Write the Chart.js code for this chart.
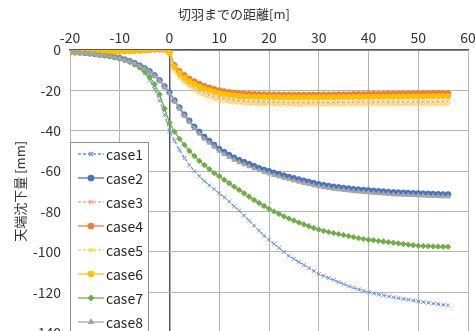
<!DOCTYPE html>
<html><head><meta charset="utf-8">
<script src="https://cdn.jsdelivr.net/npm/chart.js@4"></script>
<style>html,body{margin:0;padding:0;overflow:hidden;background:#fff}#wrap{width:475px;height:350px;position:relative}</style>
</head><body><div id="wrap"><canvas id="c"></canvas></div>
<script>
const distance = [-20,-19,-18,-17,-16,-15,-14,-13,-12,-11,-10,-9,-8,-7,-6,-5,-4,-3,-2,-1,0,1,2,3,4,5,6,7,8,9,10,11,12,13,14,15,16,17,18,19,20,21,22,23,24,25,26,27,28,29,30,31,32,33,34,35,36,37,38,39,40,41,42,43,44,45,46,47,48,49,50,51,52,53,54,55,56];
const xTicks = [-20,-10,0,10,20,30,40,50,60];
const yTicks = [0,-20,-40,-60,-80,-100,-120,-140];
const seriesNames = ['case1','case2','case3','case4','case5','case6','case7','case8'];
const case1 = [-1.0,-1.1,-1.3,-1.5,-1.7,-2.0,-2.3,-2.7,-3.1,-3.6,-4.2,-5.0,-6.0,-7.3,-9.0,-11.5,-15,-19.5,-25,-32,
 -40,-45,-49.5,-53.5,-57,-60,-62.5,-65,-67,-69,-71,
 -73,-75,-77.5,-79.5,-82,-84.5,-87,-89.5,-92,-94,
 -96,-98,-100,-102,-103.5,-105,-106.5,-108,-109.5,-111,
 -112,-113,-114,-115,-116,-117,-117.8,-118.6,-119.3,-120,
 -120.6,-121.1,-121.6,-122.1,-122.5,-122.9,-123.3,-123.7,-124.1,-124.5,
 -124.9,-125.2,-125.6,-125.9,-126.2,-126.5];
const case2 = [-1.0,-1.1,-1.3,-1.5,-1.7,-2.0,-2.3,-2.6,-3.0,-3.5,-4.0,-4.7,-5.5,-6.5,-7.7,-9.0,-10.5,-12.5,-15.0,-18.0,
 -21,-25,-28.5,-32,-35,-38,-40.5,-43,-45,-47,-49,
 -50.5,-52,-53.3,-54.5,-55.5,-56.5,-57.5,-58.5,-59.3,-60,
 -60.8,-61.5,-62.2,-62.9,-63.5,-64.1,-64.7,-65.3,-65.9,-66.5,
 -66.9,-67.3,-67.7,-68.0,-68.3,-68.6,-68.9,-69.1,-69.3,-69.5,
 -69.7,-69.9,-70.1,-70.3,-70.5,-70.6,-70.7,-70.8,-70.9,-71.0,
 -71.1,-71.2,-71.3,-71.4,-71.5,-71.5];
const case3 = [-1.2,-1.2,-1.1,-1.1,-1.0,-1.0,-0.9,-0.9,-0.8,-0.8,-0.7,-0.6,-0.5,-0.4,-0.3,-0.1,0.1,0.3,0.4,0.3,
 -1.2,-9.5,-13.0,-15.5,-17.5,-19.0,-20.3,-21.4,-22.3,-23.0,-23.6,
 -24.1,-24.5,-24.8,-25.1,-25.3,-25.5,-25.6,-25.7,-25.8,-25.8,
 -25.9,-25.9,-25.9,-26.0,-26.0,-26.0,-26.0,-26.0,-26.0,-26.0,
 -26.0,-26.0,-25.9,-25.9,-25.9,-25.9,-25.9,-25.8,-25.8,-25.8,
 -25.8,-25.8,-25.7,-25.7,-25.7,-25.7,-25.7,-25.6,-25.6,-25.6,
 -25.6,-25.6,-25.6,-25.5,-25.5,-25.5];
const case4 = [-1.2,-1.2,-1.1,-1.1,-1.0,-1.0,-0.9,-0.9,-0.8,-0.8,-0.7,-0.6,-0.5,-0.4,-0.3,-0.2,0.0,0.2,0.3,0.2,
 -1.0,-7.5,-10.5,-12.5,-14.2,-15.6,-16.8,-17.8,-18.7,-19.4,-20.0,
 -20.5,-20.9,-21.2,-21.5,-21.7,-21.8,-21.9,-22.0,-22.0,-22.1,
 -22.1,-22.1,-22.2,-22.2,-22.2,-22.2,-22.2,-22.2,-22.2,-22.2,
 -22.1,-22.1,-22.1,-22.0,-22.0,-22.0,-21.9,-21.9,-21.9,-21.8,
 -21.8,-21.8,-21.7,-21.7,-21.7,-21.6,-21.6,-21.6,-21.5,-21.5,
 -21.5,-21.5,-21.4,-21.4,-21.4,-21.4];
const case5 = [-1.3,-1.3,-1.2,-1.2,-1.1,-1.1,-1.0,-1.0,-0.9,-0.9,-0.8,-0.7,-0.6,-0.5,-0.3,-0.1,0.1,0.3,0.5,0.3,
 -1.8,-10.5,-14.0,-16.5,-18.5,-20.2,-21.6,-22.7,-23.6,-24.3,-24.9,
 -25.4,-25.8,-26.1,-26.4,-26.6,-26.8,-26.9,-27.0,-27.1,-27.1,
 -27.2,-27.2,-27.2,-27.3,-27.3,-27.3,-27.3,-27.3,-27.3,-27.3,
 -27.3,-27.3,-27.3,-27.3,-27.3,-27.2,-27.2,-27.2,-27.2,-27.2,
 -27.2,-27.2,-27.2,-27.1,-27.1,-27.1,-27.1,-27.1,-27.1,-27.1,
 -27.1,-27.1,-27.0,-27.0,-27.0,-27.0];
const case6 = [-1.3,-1.2,-1.2,-1.1,-1.1,-1.0,-1.0,-0.9,-0.9,-0.8,-0.7,-0.6,-0.5,-0.4,-0.2,0.0,0.2,0.4,0.6,0.4,
 -1.5,-8.5,-11.5,-13.7,-15.5,-17.0,-18.2,-19.2,-20.0,-20.7,-21.3,
 -21.8,-22.2,-22.5,-22.8,-23.0,-23.1,-23.2,-23.3,-23.3,-23.4,
 -23.4,-23.4,-23.5,-23.5,-23.5,-23.5,-23.5,-23.5,-23.5,-23.5,
 -23.4,-23.4,-23.4,-23.4,-23.3,-23.3,-23.3,-23.3,-23.2,-23.2,
 -23.2,-23.2,-23.1,-23.1,-23.1,-23.1,-23.0,-23.0,-23.0,-23.0,
 -23.0,-22.9,-22.9,-22.9,-22.9,-22.9];
const case7 = [-1.0,-1.1,-1.3,-1.5,-1.7,-2.0,-2.3,-2.7,-3.1,-3.6,-4.2,-5.0,-6.0,-7.2,-8.7,-10.7,-13.3,-17,-22,-29,
 -36,-40.5,-44,-47,-50,-52.5,-55,-57,-59,-61,-62.5,
 -64.3,-66,-67.7,-69.3,-71,-72.7,-74.3,-75.8,-77.3,-78.7,
 -80,-81.2,-82.4,-83.5,-84.5,-85.5,-86.4,-87.3,-88.2,-89,
 -89.6,-90.2,-90.7,-91.2,-91.7,-92.2,-92.7,-93.2,-93.6,-94,
 -94.3,-94.6,-94.9,-95.2,-95.5,-95.8,-96.1,-96.4,-96.7,-97,
 -97.1,-97.2,-97.3,-97.4,-97.5,-97.5];
const case8 = [-1.2,-1.3,-1.5,-1.7,-1.9,-2.2,-2.5,-2.8,-3.2,-3.7,-4.2,-4.9,-5.7,-6.7,-7.9,-9.2,-10.8,-12.8,-15.3,-18.3,
 -21.5,-25.5,-29,-32.7,-35.8,-38.8,-41.5,-44,-46,-48,-50,
 -51.6,-53.1,-54.5,-55.7,-56.7,-57.7,-58.7,-59.6,-60.4,-61.2,
 -62,-62.7,-63.4,-64.1,-64.7,-65.3,-65.9,-66.5,-67.1,-67.6,
 -68.0,-68.4,-68.8,-69.1,-69.4,-69.7,-70.0,-70.2,-70.4,-70.6,
 -70.8,-71.0,-71.2,-71.4,-71.6,-71.7,-71.8,-71.9,-72.0,-72.1,
 -72.2,-72.3,-72.4,-72.5,-72.6,-72.6];

const seriesValues = [case1,case2,case3,case4,case5,case6,case7,case8];
const colors = ['#6E93DA','#4472C4','#F4A77C','#ED7D31','#FFD24D','#FFC000','#70AD47','#A5A5A5'];
const styles = ['crossRot','circle','crossRot','circle','crossRot','circle','rectRot','triangle'];
const dashed = [true,false,true,false,true,false,false,false];

const FONT = "'Noto Sans CJK JP','Noto Sans',sans-serif";

const datasets = seriesNames.map((name,i)=>({
  label: name,
  data: distance.map((d,k)=>({x:d,y:seriesValues[i][k]})),
  borderColor: colors[i],
  backgroundColor: colors[i],
  borderWidth: 1.3,
  borderDash: dashed[i] ? [3,2] : [],
  pointStyle: styles[i],
  pointRadius: styles[i]==='crossRot' ? 2.8 : 2.7,
  pointBorderWidth: 1,
  pointBorderColor: colors[i],
  pointBackgroundColor: colors[i],
  order: 8 - i,
  tension: 0
}));

const legendPlugin = {
  id: 'boxLegend',
  afterDatasetsDraw(chart){
    const ctx = chart.ctx;
    const x0 = 70.5, y0 = 142.5, w = 78, h = 220;
    ctx.save();
    ctx.fillStyle = '#fff';
    ctx.fillRect(x0, y0, w, h);
    ctx.strokeStyle = '#8c8c8c';
    ctx.lineWidth = 1;
    ctx.strokeRect(x0, y0, w, h);
    chart.data.datasets.forEach((ds,i)=>{
      const y = 154 + i*24;
      ctx.strokeStyle = ds.borderColor;
      ctx.lineWidth = 1.3;
      ctx.setLineDash(ds.borderDash);
      ctx.beginPath(); ctx.moveTo(78,y); ctx.lineTo(104,y); ctx.stroke();
      ctx.setLineDash([]);
      ctx.fillStyle = ds.backgroundColor;
      Chart.helpers.drawPoint(ctx,{pointStyle:ds.pointStyle,radius:ds.pointRadius,borderWidth:1,rotation:0},91,y);
      ctx.fillStyle = '#262626';
      ctx.font = "14px " + FONT;
      ctx.textBaseline = 'middle';
      ctx.textAlign = 'left';
      ctx.fillText(ds.label, 106, y+1);
    });
    ctx.restore();
  }
};

new Chart(document.getElementById('c'), {
  type: 'line',
  data: { datasets },
  plugins: [legendPlugin],
  options: {
    responsive: true,
    maintainAspectRatio: false,
    animation: false,
    layout: { padding: { left: 0, right: 7, top: 0, bottom: 0 } },
    plugins: {
      legend: { display: false },
      tooltip: { enabled: false },
      title: {
        display: true,
        text: '切羽までの距離[m]',
        color: '#333',
        font: { family: FONT, size: 13, weight: 'normal' },
        padding: { top: 6, bottom: 0 }
      }
    },
    scales: {
      x: {
        type: 'linear',
        position: 'top',
        min: -20, max: 60,
        afterBuildTicks(scale){ scale.ticks = xTicks.map(v=>({value:v})); },
        afterFit(scale){ scale.height = 50 - 21.6; scale.paddingRight = 0; scale.paddingLeft = 0; },
        ticks: { color: '#333', font: { family: FONT, size: 14 }, padding: 4, maxRotation: 0 },
        grid: {
          drawTicks: false,
          color: ctx => ctx.tick && ctx.tick.value === 0 ? '#595959' : '#b4b4b4',
          lineWidth: ctx => ctx.tick && ctx.tick.value === 0 ? 1.5 : 1
        },
        border: { display: true, color: '#595959', width: 1.5 }
      },
      y: {
        type: 'linear',
        min: -140, max: 0,
        afterBuildTicks(scale){ scale.ticks = yTicks.map(v=>({value:v})); },
        afterFit(scale){ scale.width = 70; },
        ticks: { color: '#333', font: { family: FONT, size: 14 }, padding: 9 },
        grid: { drawTicks: false, color: '#b4b4b4', lineWidth: 1 },
        border: { display: true, color: '#b4b4b4' },
        title: {
          display: true,
          text: '天端沈下量 [mm]',
          color: '#333',
          font: { family: FONT, size: 13 },
          padding: { top: 12, bottom: 0 }
        }
      }
    }
  }
});
</script>
</body></html>
